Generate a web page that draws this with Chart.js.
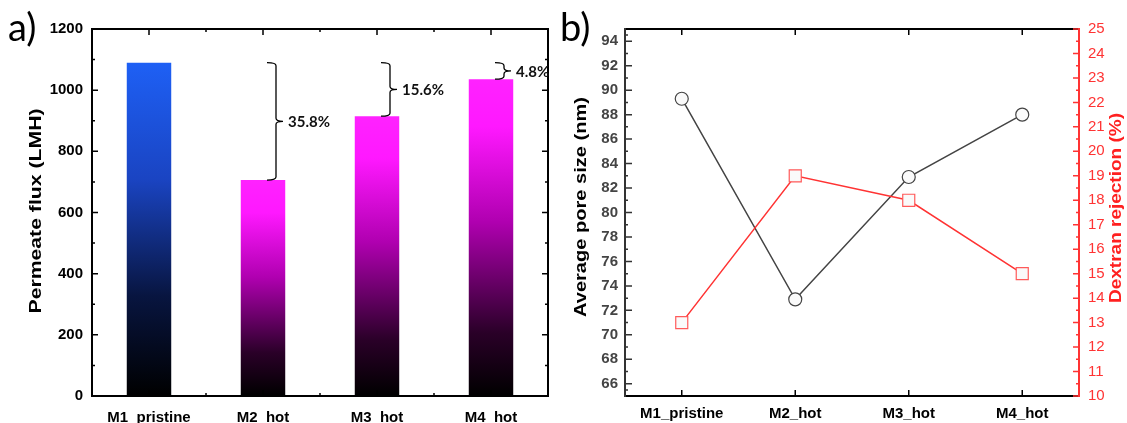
<!DOCTYPE html>
<html>
<head>
<meta charset="utf-8">
<script src="https://cdn.jsdelivr.net/npm/chart.js@4.4.1/dist/chart.umd.min.js"></script>
<style>
  body { margin: 0; background: #fff; width: 1127px; height: 423px; overflow: hidden; position: relative; }
  canvas { position: absolute; top: 0; }
  #fluxChart { left: 0; }
  #poreChart { left: 556px; }
</style>
</head>
<body>
<canvas id="fluxChart" width="556" height="423"></canvas>
<canvas id="poreChart" width="571" height="423"></canvas>
<script>
// ---- dados ----
const membranas = ['M1_pristine', 'M2_hot', 'M3_hot', 'M4_hot'];
const fluxo = [1090, 706, 915, 1036];
const quedaFluxo = ['', '35.8%', '15.6%', '4.8%'];
const fluxoTicks = [0, 200, 400, 600, 800, 1000, 1200];
const tamanhoPoro = [89.3, 72.9, 82.9, 88.0];
const rejeicao = [13, 19, 18, 15];
const poroTicks = [66, 68, 70, 72, 74, 76, 78, 80, 82, 84, 86, 88, 90, 92, 94];
const rejeicaoTicks = [10, 11, 12, 13, 14, 15, 16, 17, 18, 19, 20, 21, 22, 23, 24, 25];

const FONT = "'Liberation Sans', Arial, sans-serif";
const azul = [[0, '#000000'], [0.3, '#081540'], [0.65, '#1a44c2'], [1, '#1e60f5']];
const rosa = [[0, '#000000'], [0.2, '#2a0028'], [0.55, '#b000b0'], [0.85, '#ff18ff'], [1, '#ff22ff']];

// titulo vertical esticado no comprimento do original
function tituloVertical(ctx, texto, cx, cy, comp, cor, rot) {
  ctx.save();
  ctx.font = 'bold 16px ' + FONT;
  ctx.fillStyle = cor;
  ctx.textAlign = 'center';
  ctx.textBaseline = 'middle';
  const w = ctx.measureText(texto).width;
  ctx.translate(cx, cy);
  ctx.rotate(rot);
  ctx.scale(comp / w, 1);
  ctx.fillText(texto, 0, 0);
  ctx.restore();
}

function linha(ctx, x1, y1, x2, y2) { ctx.moveTo(x1, y1); ctx.lineTo(x2, y2); }

// ---- painel a ----
const molduraA = {
  id: 'molduraA',
  afterDatasetsDraw(chart) {
    const { ctx, chartArea: a, scales: { x, y } } = chart;
    ctx.save();
    ctx.strokeStyle = '#000';
    ctx.lineWidth = 1.5;
    ctx.beginPath();
    const yt = y.ticks.map(t => y.getPixelForValue(t.value));
    yt.forEach((py, i) => {
      linha(ctx, a.left, py, a.left + 6, py);
      linha(ctx, a.right, py, a.right - 6, py);
      if (i > 0) {
        const m = (py + yt[i - 1]) / 2;
        linha(ctx, a.left, m, a.left + 3, m);
        linha(ctx, a.right, m, a.right - 3, m);
      }
    });
    const xt = membranas.map((_, i) => x.getPixelForValue(i));
    xt.forEach((px, i) => {
      linha(ctx, px, a.top, px, a.top + 6);
      linha(ctx, px, a.bottom, px, a.bottom - 6);
      if (i > 0) {
        const m = (px + xt[i - 1]) / 2;
        linha(ctx, m, a.top, m, a.top + 3);
        linha(ctx, m, a.bottom, m, a.bottom - 3);
      }
    });
    ctx.stroke();
    ctx.lineWidth = 2;
    ctx.strokeRect(a.left, a.top, a.width, a.height);

    // chaves com a queda de fluxo
    const yTopo = y.getPixelForValue(fluxo[0]);
    ctx.lineWidth = 1.3;
    ctx.font = 'bold 15px Lato, ' + FONT;
    ctx.fillStyle = '#111';
    ctx.textBaseline = 'middle';
    for (let i = 1; i < fluxo.length; i++) {
      const cx = x.getPixelForValue(i);
      const yB = y.getPixelForValue(fluxo[i]);
      const yM = (yTopo + yB) / 2;
      const x0 = cx + 4, xv = cx + 13, xp = cx + 20, r = 3;
      ctx.beginPath();
      ctx.moveTo(x0, yTopo);
      ctx.quadraticCurveTo(xv, yTopo, xv, yTopo + r);
      ctx.lineTo(xv, yM - r);
      ctx.quadraticCurveTo(xv, yM, xp, yM);
      ctx.moveTo(x0, yB);
      ctx.quadraticCurveTo(xv, yB, xv, yB - r);
      ctx.lineTo(xv, yM + r);
      ctx.quadraticCurveTo(xv, yM, xp, yM);
      ctx.stroke();
      ctx.fillText(quedaFluxo[i], cx + 25, yM + 1);
    }

    tituloVertical(ctx, 'Permeate flux (LMH)', 37, 211, 205, '#000', -Math.PI / 2);
    ctx.font = '38px Lato, sans-serif';
    ctx.fillStyle = '#000';
    ctx.textBaseline = 'alphabetic';
    ctx.fillText('a)', 8, 41);
    ctx.restore();
  }
};

function gradienteBarra(context) {
  const chart = context.chart;
  if (!chart.chartArea) return null;
  const y = chart.scales.y;
  const i = context.dataIndex;
  const g = chart.ctx.createLinearGradient(0, y.getPixelForValue(0), 0, y.getPixelForValue(fluxo[i]));
  (i === 0 ? azul : rosa).forEach(([p, c]) => g.addColorStop(p, c));
  return g;
}

new Chart(document.getElementById('fluxChart'), {
  type: 'bar',
  data: {
    labels: membranas,
    datasets: [{
      data: fluxo,
      backgroundColor: gradienteBarra,
      borderWidth: 0,
      barPercentage: 0.39,
      categoryPercentage: 1
    }]
  },
  options: {
    responsive: false,
    animation: false,
    layout: { padding: { top: 29, right: 8, left: 0, bottom: 0 } },
    plugins: { legend: { display: false }, tooltip: { enabled: false } },
    scales: {
      x: {
        offset: true,
        grid: { display: false, drawTicks: false },
        border: { display: false },
        ticks: { color: '#000', font: { family: FONT, size: 15, weight: 'bold' }, padding: 13, maxRotation: 0, autoSkip: false },
        afterFit: s => { s.height = 27; }
      },
      y: {
        min: 0, max: 1200,
        afterBuildTicks: s => { s.ticks = fluxoTicks.map(v => ({ value: v })); },
        grid: { display: false, drawTicks: false },
        border: { display: false },
        ticks: { color: '#000', font: { family: FONT, size: 15, weight: 'bold' }, padding: 9, autoSkip: false, callback: v => String(v) },
        afterFit: s => { s.width = 92; }
      }
    }
  },
  plugins: [molduraA]
});

// ---- painel b ----
const molduraB = {
  id: 'molduraB',
  afterDatasetsDraw(chart) {
    const { ctx, chartArea: a, scales: { x, y, y1 } } = chart;
    ctx.save();
    ctx.lineWidth = 1.5;
    // eixo esquerdo
    ctx.strokeStyle = '#333';
    ctx.beginPath();
    const yt = y.ticks.map(t => y.getPixelForValue(t.value));
    yt.forEach((py, i) => {
      linha(ctx, a.left, py, a.left + 7, py);
      if (i > 0) { const m = (py + yt[i - 1]) / 2; linha(ctx, a.left, m, a.left + 3, m); }
    });
    const lo = y.getPixelForValue(y.min), hi = y.getPixelForValue(y.max);
    linha(ctx, a.left, (yt[0] + lo) / 2, a.left + 3, (yt[0] + lo) / 2);
    linha(ctx, a.left, (yt[yt.length - 1] + hi) / 2, a.left + 3, (yt[yt.length - 1] + hi) / 2);
    ctx.stroke();
    // topo e base
    ctx.strokeStyle = '#000';
    ctx.beginPath();
    membranas.forEach((_, i) => {
      const px = x.getPixelForValue(i);
      linha(ctx, px, a.top, px, a.top + 6);
      linha(ctx, px, a.bottom, px, a.bottom - 6);
    });
    ctx.stroke();
    ctx.lineWidth = 2;
    ctx.beginPath();
    linha(ctx, a.left, a.top, a.right, a.top);
    linha(ctx, a.left, a.bottom, a.right, a.bottom);
    ctx.stroke();
    ctx.strokeStyle = '#333';
    ctx.beginPath();
    linha(ctx, a.left, a.top - 1, a.left, a.bottom + 1);
    ctx.stroke();
    // eixo direito
    ctx.strokeStyle = '#ff3333';
    ctx.lineWidth = 1.5;
    ctx.beginPath();
    const rt = y1.ticks.map(t => y1.getPixelForValue(t.value));
    rt.forEach((py, i) => {
      linha(ctx, a.right, py, a.right - 6, py);
      if (i > 0) { const m = (py + rt[i - 1]) / 2; linha(ctx, a.right, m, a.right - 3, m); }
    });
    ctx.stroke();
    ctx.lineWidth = 2;
    ctx.beginPath();
    linha(ctx, a.right, a.top - 1, a.right, a.bottom + 1);
    ctx.stroke();

    tituloVertical(ctx, 'Average pore size (nm)', 26, 207, 220, '#000', -Math.PI / 2);
    tituloVertical(ctx, 'Dextran rejection (%)', 561, 208, 190, '#ff2020', -Math.PI / 2);
    ctx.font = '38px Lato, sans-serif';
    ctx.fillStyle = '#000';
    ctx.textBaseline = 'alphabetic';
    ctx.fillText('b)', 4, 41);
    ctx.restore();
  }
};

new Chart(document.getElementById('poreChart'), {
  type: 'line',
  data: {
    labels: membranas,
    datasets: [{
      data: tamanhoPoro,
      yAxisID: 'y',
      order: 2,
      borderColor: '#444',
      borderWidth: 1.5,
      pointStyle: 'circle',
      pointRadius: 6.5,
      pointBackgroundColor: '#fafafa',
      pointBorderColor: '#444',
      pointBorderWidth: 1.2
    }, {
      data: rejeicao,
      yAxisID: 'y1',
      order: 1,
      borderColor: '#ff3333',
      borderWidth: 1.5,
      pointStyle: 'rect',
      pointRadius: 8.5,
      pointBackgroundColor: '#fafafa',
      pointBorderColor: '#ff5a5a',
      pointBorderWidth: 1.2
    }]
  },
  options: {
    responsive: false,
    animation: false,
    layout: { padding: { top: 29, right: 0, left: 0, bottom: 0 } },
    plugins: { legend: { display: false }, tooltip: { enabled: false } },
    scales: {
      x: {
        offset: true,
        grid: { display: false, drawTicks: false },
        border: { display: false },
        ticks: { color: '#000', font: { family: FONT, size: 15, weight: 'bold' }, padding: 9, maxRotation: 0, autoSkip: false },
        afterFit: s => { s.height = 27; }
      },
      y: {
        position: 'left',
        min: 65, max: 95,
        afterBuildTicks: s => { s.ticks = poroTicks.map(v => ({ value: v })); },
        grid: { display: false, drawTicks: false },
        border: { display: false },
        ticks: { color: '#444', font: { family: FONT, size: 15, weight: 'bold' }, padding: 7, autoSkip: false },
        afterFit: s => { s.width = 69; }
      },
      y1: {
        position: 'right',
        min: 10, max: 25,
        afterBuildTicks: s => { s.ticks = rejeicaoTicks.map(v => ({ value: v })); },
        grid: { display: false, drawTicks: false },
        border: { display: false },
        ticks: { color: '#ff3333', font: { family: FONT, size: 15 }, padding: 9, autoSkip: false },
        afterFit: s => { s.width = 48; }
      }
    }
  },
  plugins: [molduraB]
});
</script>
</body>
</html>
